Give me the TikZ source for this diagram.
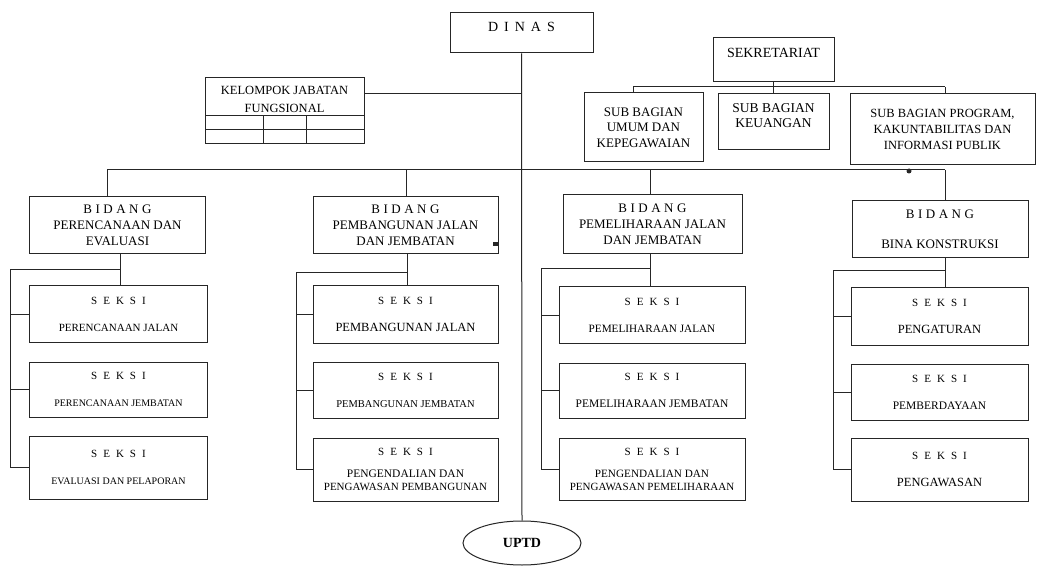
\documentclass[tikz,border=0pt]{standalone}
\usepackage{fontspec}
\setmainfont{Liberation Serif}
\usetikzlibrary{shapes.geometric}
\newcommand\fs[2]{\fontsize{#1bp}{#2bp}\selectfont}
\newcommand\gp{\hspace{6bp}}
\newcommand\gq{\hspace{3.5bp}}
\newcommand\sek{S\gp E\gp K\gp S\gp I}
\newcommand\bid{B\gq I\gq D\gq A\gq N\gq G}
\tikzset{
  ln/.style={line width=1bp, draw=black!85},
  box/.style={ln, rectangle, align=center, inner xsep=1bp, inner ysep=1bp},
  sbox/.style={box, font=\fs{11}{13}},
  bbox/.style={box, font=\fs{13}{16}},
}
\begin{document}
\begin{tikzpicture}[x=1bp,y=-1bp]
\useasboundingbox[fill=white] (0,0) rectangle (1039,570);

% top
\node[box, minimum width=143bp, minimum height=40bp,
  label={[font=\fs{14}{16}, yshift=6bp]center:D\gp I\gp N\gp A\gp S}] (dinas) at (521.5,33) {};
\node[box, minimum width=159bp, minimum height=66bp,
  label={[font=\fs{12.5}{18}, align=center, yshift=12bp]center:KELOMPOK JABATAN\\FUNGSIONAL}] (kel) at (284.5,111) {};
\draw[ln] (205,116) -- (364,116);
\draw[ln] (205,130) -- (364,130);
\draw[ln] (263,116) -- (263,144);
\draw[ln] (306,116) -- (306,144);

\node[box, minimum width=121bp, minimum height=44bp,
  label={[font=\fs{14}{16}, yshift=7bp]center:SEKRETARIAT}] (sek) at (773.5,60) {};
\node[box, font=\fs{13}{15.5}, minimum width=119bp, minimum height=69bp] (umum) at (643.5,127.5) {SUB BAGIAN\\UMUM DAN\\KEPEGAWAIAN};
\node[box, minimum width=111bp, minimum height=56bp,
  label={[font=\fs{13.5}{15}, align=center, yshift=6bp]center:SUB BAGIAN\\KEUANGAN}] (keu) at (773.5,122) {};
\node[box, font=\fs{12.5}{16}, minimum width=185bp, minimum height=71bp] (prog) at (942.5,129.5) {SUB BAGIAN PROGRAM,\\KAKUNTABILITAS DAN\\INFORMASI PUBLIK};

% bidang
\node[bbox, minimum width=175bp, minimum height=56bp] (b1) at (117.5,225) {\bid\\PERENCANAAN DAN\\EVALUASI};
\node[bbox, minimum width=185bp, minimum height=56bp] (b2) at (405.5,225) {\bid\\PEMBANGUNAN JALAN\\DAN JEMBATAN};
\node[bbox, minimum width=179bp, minimum height=58bp] (b3) at (652.5,224) {\bid\\PEMELIHARAAN JALAN\\DAN JEMBATAN};
\node[bbox, minimum width=176bp, minimum height=56bp] (b4) at (940,229) {\bid\\[14bp]BINA KONSTRUKSI};

% seksi B1
\node[sbox, minimum width=177bp, minimum height=56bp] (b1s1) at (118.5,314) {\sek\\[14bp]\fs{11}{13}PERENCANAAN JALAN};
\node[sbox, minimum width=177bp, minimum height=55bp] (b1s2) at (118.5,389.5) {\sek\\[14bp]\fs{10}{13}PERENCANAAN JEMBATAN};
\node[sbox, minimum width=177bp, minimum height=63bp] (b1s3) at (118.5,467.5) {\sek\\[14bp]\fs{10}{13}EVALUASI DAN PELAPORAN};
% seksi B2
\node[sbox, minimum width=185bp, minimum height=57bp] (b2s1) at (405.5,314.5) {\sek\\[14bp]\fs{12.5}{13}PEMBANGUNAN JALAN};
\node[sbox, minimum width=185bp, minimum height=56bp] (b2s2) at (405.5,390) {\sek\\[14bp]\fs{10.5}{13}PEMBANGUNAN JEMBATAN};
\node[sbox, minimum width=185bp, minimum height=63bp] (b2s3) at (405.5,469.5) {\sek\\[9bp]\fs{11.5}{12}PENGENDALIAN DAN\\PENGAWASAN PEMBANGUNAN};
% seksi B3
\node[sbox, minimum width=186bp, minimum height=56bp] (b3s1) at (652,315) {\sek\\[14bp]\fs{11.2}{13}PEMELIHARAAN JALAN};
\node[sbox, minimum width=186bp, minimum height=55bp] (b3s2) at (652,390.5) {\sek\\[14bp]\fs{11.5}{13}PEMELIHARAAN JEMBATAN};
\node[sbox, minimum width=186bp, minimum height=62bp] (b3s3) at (652,469) {\sek\\[9bp]\fs{11.2}{12}PENGENDALIAN DAN\\PENGAWASAN PEMELIHARAAN};
% seksi B4
\node[sbox, minimum width=177bp, minimum height=57bp] (b4s1) at (939.5,316.5) {\sek\\[14bp]\fs{12.5}{13}PENGATURAN};
\node[sbox, minimum width=177bp, minimum height=56bp] (b4s2) at (939.5,392) {\sek\\[14bp]\fs{11.5}{13}PEMBERDAYAAN};
\node[sbox, minimum width=177bp, minimum height=63bp] (b4s3) at (939.5,469.5) {\sek\\[14bp]\fs{12.5}{13}PENGAWASAN};

\node[ln, ellipse, minimum width=118bp, minimum height=44bp, font=\bfseries\fs{14}{16}] (uptd) at (522,543) {UPTD};

% main connectors
\draw[ln] (dinas.south) -- (uptd.north);
\coordinate (k) at (522,94);
\draw[ln] (k -| kel.east) -- (k);
\coordinate (h1) at (107,170);
\coordinate (h2) at (406,170);
\coordinate (h3) at (650,170);
\coordinate (h4) at (945,170);
\draw[ln] (h1) -- (h4);
\draw[ln] (h1) -- (h1 |- b1.north);
\draw[ln] (h2) -- (h2 |- b2.north);
\draw[ln] (h3) -- (h3 |- b3.north);
\draw[ln] (h4) -- (h4 |- b4.north);

% sekretariat connectors
\coordinate (sL) at (633,87);
\coordinate (sR) at (945,87);
\draw[ln] (sL) -- (sR);
\draw[ln] (sL) -- (sL |- umum.north);
\draw[ln] (sek.south) -- (keu.north);
\draw[ln] (sR) -- (sR |- prog.north);

% seksi connectors
\coordinate (d1) at (120,0);
\coordinate (d2) at (407,0);
\coordinate (d3) at (650,0);
\coordinate (d4) at (945,0);
\coordinate (j1) at (10,270);
\coordinate (j2) at (296,273);
\coordinate (j3) at (541,269);
\coordinate (j4) at (833,271);
\foreach \i in {1,2,3,4}{
  \draw[ln] (d\i |- b\i.south) -- (d\i |- b\i s1.north);
  \draw[ln] (j\i) -- (j\i -| d\i);
  \draw[ln] (j\i) |- (b\i s1.west);
  \draw[ln] (j\i) |- (b\i s2.west);
  \draw[ln] (j\i) |- (b\i s3.west);
}

% marks
\fill[black!85] (909,171) circle (2.5bp);
\fill[black!85] (493,242) rectangle (498,246);
\end{tikzpicture}
\end{document}
